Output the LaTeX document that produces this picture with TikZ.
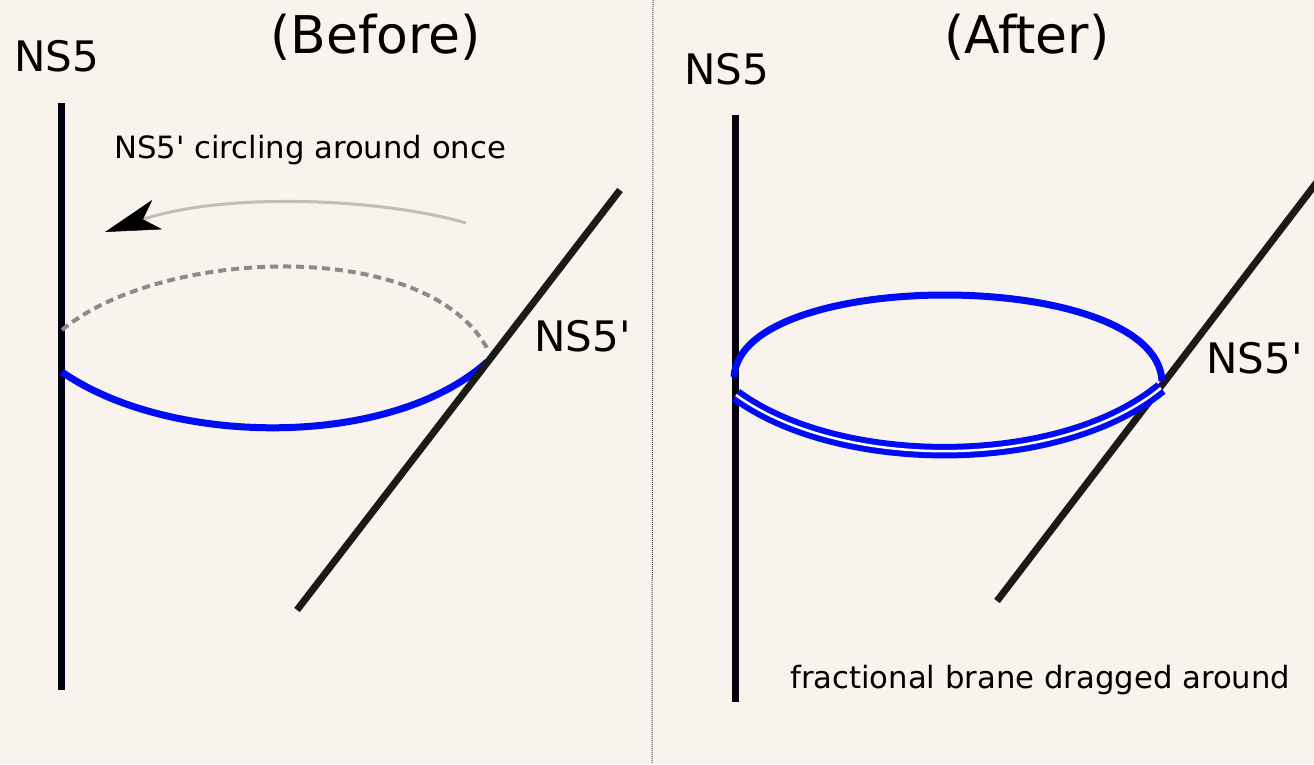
\documentclass[tikz,border=0pt]{standalone}
\usepackage{fontspec}
\newfontfamily\nsfont{DejaVu Sans}
\usetikzlibrary{arrows.meta}
\definecolor{bgcol}{RGB}{248,244,237}
\definecolor{branecol}{RGB}{0,0,16}
\definecolor{diagcol}{RGB}{28,26,23}
\definecolor{loopblue}{RGB}{0,12,245}
\definecolor{dashgray}{RGB}{138,140,134}
\definecolor{arrowgray}{RGB}{190,191,181}
\definecolor{divcol}{RGB}{70,70,70}
\begin{document}
\begin{tikzpicture}[x=1pt,y=-1pt,
  ns5line/.style={line width=7pt, draw=branecol},
  ns5pline/.style={line width=7pt, draw=diagcol},
  loopline/.style={line width=7pt, draw=loopblue},
  dashloop/.style={line width=4pt, draw=dashgray, dash pattern=on 8pt off 5pt},
  arrowline/.style={line width=3pt, draw=arrowgray,
    -{Stealth[length=55pt,width=31pt,inset=15pt,color=black,line width=0.5pt]}},
  divider/.style={line width=1pt, draw=divcol, dash pattern=on 1pt off 1pt},
  titletext/.style={anchor=base west, inner sep=0pt, font=\nsfont\fontsize{52}{62}\selectfont},
  branetext/.style={anchor=base west, inner sep=0pt, font=\nsfont\fontsize{42}{50}\selectfont},
  notetext/.style={anchor=base west, inner sep=0pt, font=\nsfont\fontsize{30.7}{37}\selectfont}]
\useasboundingbox (0,0) rectangle (1314,764);
\fill[bgcol] (0,0) rectangle (1314,764);
\clip (0,0) rectangle (1314,764);

% ---------- labels ----------
\node[titletext] (before) at (270,53) {(Before)};
\node[titletext] (after) at (944,53) {(After)};
\node[branetext] (ns5L) at (14,71) {NS5};
\node[branetext] (ns5R) at (684,84) {NS5};
\node[branetext] (ns5pL) at (534,351) {NS5'};
\node[branetext] (ns5pR) at (1206,373) {NS5'};
\node[notetext] (circ) at (114,158) {NS5' circling around once};
\node[notetext] (frac) at (790,688) {fractional brane dragged around};

% ---------- divider ----------
\coordinate (divT) at (653,0);
\coordinate (divB) at (652,764);
\draw[divider] (divT) -- (divB);

% ---------- before ----------
\coordinate (vLt) at (61,103);
\coordinate (vLb) at (61,690);
\draw[ns5line] (vLt) -- (vLb);

\coordinate (dashA) at (62,330);
\coordinate (dashB) at (488,350);
\draw[dashloop] (dashA) .. controls (160,248) and (428,236) .. (dashB);

\coordinate (loopA) at (62,372);
\coordinate (loopB) at (487,362);
\draw[loopline] (loopA) .. controls (170,447) and (390,449) .. (loopB);

\coordinate (dLt) at (620,190);
\coordinate (dLb) at (297,610);
\draw[ns5pline] (dLt) -- (dLb);

\coordinate (arrS) at (466,223);
\coordinate (arrE) at (105,232);
\draw[arrowline] (arrS) .. controls (380,198) and (225,192) .. (arrE);

% ---------- after ----------
\coordinate (vRt) at (735,115);
\coordinate (vRb) at (735,702);
\draw[ns5line] (vRt) -- (vRb);

\coordinate (dRb) at (997,601);
\coordinate (dRt) at (1330,165);
\draw[ns5pline] (dRb) -- (dRt);

\coordinate (topA) at (734,377);
\coordinate (topB) at (1162,381);
\draw[loopline] (topA) .. controls (740,267) and (1156,267) .. (topB);

\coordinate (lowA) at (736,395);
\coordinate (lowB) at (1161,388);
\draw[loopline, line width=6pt, double=white, double distance=2.5pt]
  (lowA) .. controls (840,471) and (1060,471) .. (lowB);
\end{tikzpicture}
\end{document}
